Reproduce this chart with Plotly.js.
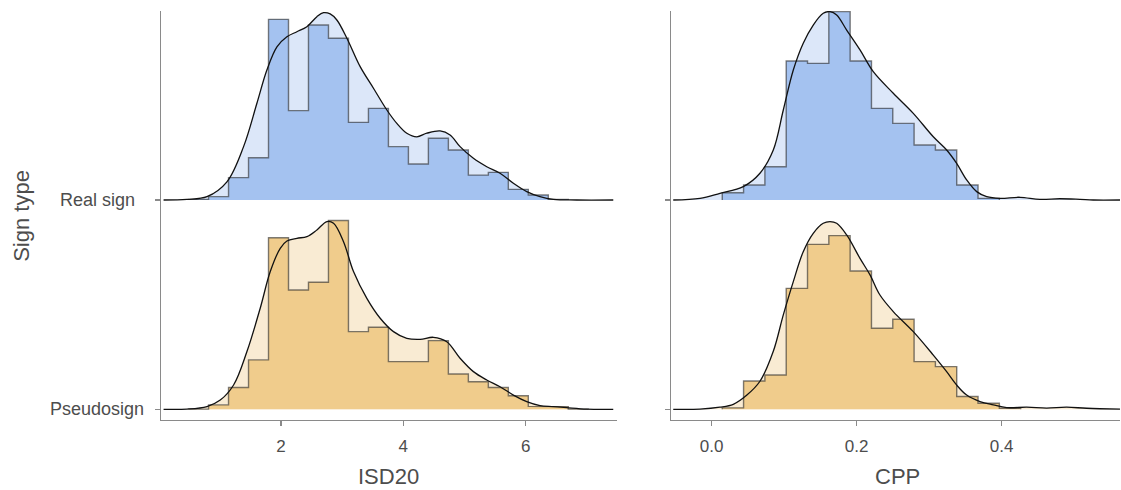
<!DOCTYPE html>
<html>
<head>
<meta charset="utf-8">
<script src="https://cdn.plot.ly/plotly-3.0.1.min.js"></script>
<style>html,body{margin:0;padding:0;background:#fff;}#chart{width:1121px;height:490px;}</style>
</head>
<body>
<div id="chart"></div>
<script>
// ---- categories ----
const signTypes = ["Pseudosign", "Real sign"];   // ridge rows, bottom to top
const rowPos = [1, 2];

// ---- ISD20 histogram (heights in ridge-row units) ----
const isdBinStart = 0.4915;
const isdBinWidth = 0.3265;
const isdRealHist   = [0.003,0.016,0.107,0.202,0.863,0.427,0.836,0.773,0.371,0.438,0.255,0.172,0.295,0.239,0.119,0.132,0.051,0.024,0.003];
const isdPseudoHist = [0.001,0.021,0.104,0.236,0.820,0.570,0.607,0.902,0.371,0.392,0.228,0.228,0.328,0.169,0.132,0.104,0.065,0.014,0.013,0.001];

// ---- ISD20 density ----
const isdRealDensX = [0.083,0.465,0.792,1.118,1.390,1.608,1.771,1.935,2.098,2.261,2.424,2.588,2.696,2.805,2.914,3.078,3.295,3.512,3.731,3.894,4.057,4.220,4.384,4.601,4.764,4.927,5.145,5.363,5.580,5.798,6.016,6.233,6.451,6.833,7.430];
const isdRealDensY = [0,0.003,0.016,0.087,0.255,0.462,0.621,0.732,0.780,0.804,0.828,0.876,0.895,0.889,0.860,0.773,0.637,0.534,0.430,0.366,0.319,0.302,0.319,0.330,0.311,0.255,0.199,0.159,0.128,0.080,0.040,0.016,0.003,0,0];
const isdPseudoDensX = [0.083,0.465,0.792,1.009,1.227,1.445,1.662,1.826,1.989,2.098,2.261,2.424,2.588,2.751,2.860,3.023,3.186,3.404,3.622,3.839,4.057,4.275,4.492,4.710,4.927,5.145,5.363,5.580,5.798,6.016,6.233,6.451,6.668,6.995,7.430];
const isdPseudoDensY = [0,0.001,0.013,0.044,0.116,0.276,0.483,0.658,0.769,0.804,0.817,0.825,0.857,0.897,0.889,0.801,0.658,0.530,0.435,0.371,0.339,0.334,0.344,0.323,0.244,0.180,0.140,0.108,0.068,0.037,0.018,0.013,0.008,0.001,0];

// ---- CPP histogram ----
const cppBinStart = 0.0146;
const cppBinWidth = 0.0294;
const cppRealHist   = [0.035,0.072,0.159,0.664,0.653,0.900,0.664,0.438,0.366,0.263,0.239,0.072,0.008];
const cppPseudoHist = [0.007,0.135,0.164,0.578,0.788,0.830,0.661,0.387,0.430,0.228,0.204,0.061,0.029,0.005];

// ---- CPP density ----
const cppRealDensX = [-0.053,-0.0161,0.0114,0.0436,0.0666,0.0850,0.0988,0.1126,0.1263,0.1401,0.1539,0.1632,0.1724,0.1862,0.2046,0.2229,0.2505,0.2781,0.3057,0.3241,0.3379,0.3517,0.3655,0.3793,0.3977,0.4252,0.4528,0.4804,0.5080,0.5263,0.5632];
const cppRealDensY = [0,0.008,0.032,0.064,0.128,0.239,0.430,0.621,0.749,0.836,0.892,0.900,0.884,0.812,0.717,0.613,0.510,0.414,0.302,0.239,0.175,0.096,0.040,0.016,0.008,0.013,0.003,0.006,0.003,0,0];
const cppPseudoDensX = [-0.053,-0.0161,0.0114,0.0298,0.0482,0.0666,0.0850,0.0988,0.1126,0.1263,0.1401,0.1539,0.1632,0.1724,0.1862,0.2046,0.2184,0.2321,0.2505,0.2781,0.3057,0.3241,0.3379,0.3517,0.3701,0.3885,0.4069,0.4344,0.4620,0.4896,0.5172,0.5632];
const cppPseudoDensY = [0,0.001,0.010,0.024,0.067,0.134,0.277,0.451,0.610,0.753,0.841,0.889,0.897,0.889,0.833,0.721,0.642,0.546,0.467,0.371,0.259,0.180,0.116,0.068,0.037,0.021,0.008,0.010,0.006,0.010,0.005,0.001];

// ---- axis ticks ----
const isdTicks = [2, 4, 6];
const cppTicks = [0, 0.2, 0.4];
const cppTickText = ["0.0", "0.2", "0.4"];

// ---- styles ----
const colors = {
  "Real sign":  {hist: "#A4C2F0", dens: "#DCE7F9"},
  "Pseudosign": {hist: "#F0CC8C", dens: "#F9EBD3"}
};
const axisGrey = "#8a8a8a";
const textGrey = "#4d4d4d";
const FONT = "Liberation Sans, Arial, sans-serif";

const traces = [];
function histPath(start, width, heights, base) {
  const xs = [start], ys = [base];
  heights.forEach((h, i) => {
    const l = start + i * width, r = l + width;
    xs.push(l, r); ys.push(base + h, base + h);
  });
  xs.push(start + heights.length * width); ys.push(base);
  return {xs, ys};
}
function addRidge(xa, ya, name, base, binStart, binWidth, hist, dx, dy) {
  const c = colors[name];
  // baseline for fill
  traces.push({type: "scatter", mode: "lines", x: [dx[0], dx[dx.length - 1]], y: [base, base],
    line: {width: 0, color: "rgba(0,0,0,0)"}, xaxis: xa, yaxis: ya, hoverinfo: "skip", showlegend: false});
  // density fill
  traces.push({type: "scatter", mode: "lines", x: dx, y: dy.map(v => base + v), fill: "tonexty",
    fillcolor: c.dens, line: {width: 0, shape: "spline", color: "rgba(0,0,0,0)"},
    xaxis: xa, yaxis: ya, hoverinfo: "skip", showlegend: false});
  // histogram
  const p = histPath(binStart, binWidth, hist, base);
  traces.push({type: "scatter", mode: "lines", x: p.xs, y: p.ys, fill: "toself", fillcolor: c.hist,
    line: {width: 1.4, color: "rgba(40,40,40,0.6)"}, xaxis: xa, yaxis: ya, hoverinfo: "skip", showlegend: false});
  // density line
  traces.push({type: "scatter", mode: "lines", x: dx, y: dy.map(v => base + v),
    line: {width: 1.3, shape: "spline", color: "#111"}, xaxis: xa, yaxis: ya, hoverinfo: "skip", showlegend: false});
}

addRidge("x", "y", "Real sign", rowPos[1], isdBinStart, isdBinWidth, isdRealHist, isdRealDensX, isdRealDensY);
addRidge("x", "y", "Pseudosign", rowPos[0], isdBinStart, isdBinWidth, isdPseudoHist, isdPseudoDensX, isdPseudoDensY);
addRidge("x2", "y2", "Real sign", rowPos[1], cppBinStart, cppBinWidth, cppRealHist, cppRealDensX, cppRealDensY);
addRidge("x2", "y2", "Pseudosign", rowPos[0], cppBinStart, cppBinWidth, cppPseudoHist, cppPseudoDensX, cppPseudoDensY);

const yRange = [0.9489, 2.903];
const common = {showgrid: false, zeroline: false, showline: true, linecolor: axisGrey, linewidth: 1.4,
  ticks: "outside", tickcolor: axisGrey, ticklen: 5, tickwidth: 1.2, fixedrange: true};

const layout = {
  width: 1121, height: 490,
  margin: {l: 161, r: 1, t: 11, b: 70},
  paper_bgcolor: "#fff", plot_bgcolor: "#fff",
  showlegend: false,
  font: {family: FONT, color: textGrey},
  xaxis: Object.assign({}, common, {domain: [0, 0.4755], range: [0.041, 7.491], tickvals: isdTicks,
    tickfont: {size: 17, color: textGrey, family: FONT}, ticklabelstandoff: 5, anchor: "y"}),
  xaxis2: Object.assign({}, common, {domain: [0.5318, 1], range: [-0.0561, 0.5632], tickvals: cppTicks,
    ticktext: cppTickText, tickmode: "array", tickfont: {size: 17, color: textGrey, family: FONT}, ticklabelstandoff: 5, anchor: "y2"}),
  yaxis: Object.assign({}, common, {range: yRange, tickvals: rowPos, showticklabels: false, anchor: "x"}),
  yaxis2: Object.assign({}, common, {range: yRange, tickvals: rowPos, showticklabels: false, anchor: "x2"}),
  annotations: [
    ...signTypes.map((s, i) => ({text: s, xref: "paper", yref: "y", x: -0.0667, y: rowPos[i],
      xanchor: "center", yanchor: "middle", showarrow: false, font: {size: 18, color: textGrey, family: FONT}})),
    {text: "ISD20", xref: "paper", yref: "paper", x: 0.2377, y: -0.139, xanchor: "center", yanchor: "middle",
      showarrow: false, font: {size: 22, color: textGrey, family: FONT}},
    {text: "CPP", xref: "paper", yref: "paper", x: 0.7685, y: -0.139, xanchor: "center", yanchor: "middle",
      showarrow: false, font: {size: 22, color: textGrey, family: FONT}},
    {text: "Sign type", xref: "paper", yref: "paper", x: -0.145, y: 0.499, xanchor: "center", yanchor: "middle",
      textangle: -90, showarrow: false, font: {size: 22, color: textGrey, family: FONT}}
  ]
};

Plotly.newPlot("chart", traces, layout, {staticPlot: true, displayModeBar: false});
</script>
</body>
</html>
